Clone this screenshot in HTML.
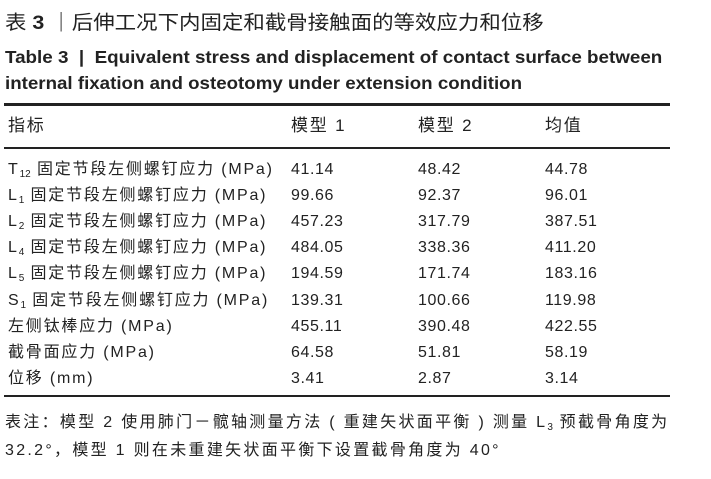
<!DOCTYPE html>
<html><head><meta charset="utf-8">
<style>
body{margin:0;width:711px;height:479px;background:#fff;font-family:"Liberation Sans","Noto Sans CJK SC",sans-serif;color:#222;position:relative;overflow:hidden}
.a{position:absolute;white-space:nowrap;transform-origin:0 0}
.t1{left:5px;top:6px;font-size:19.5px;transform:scaleX(1.1)}
.t2{left:5px;top:47px;font-size:17.5px;font-weight:bold;transform:scaleX(1.075)}
.t3{left:5px;top:73px;font-size:17.5px;font-weight:bold;transform:scaleX(1.07)}
.ln{position:absolute;left:4px;width:666px;background:#222}
.c{position:absolute;font-size:16px;line-height:20px;white-space:nowrap;letter-spacing:0.6px}
.lab{letter-spacing:1.8px}
.n{font-size:10px;vertical-align:-3px;letter-spacing:0}
.f{left:5px;font-size:16px;letter-spacing:2.3px}
</style></head><body>
<div class="a t1">表 <b>3</b> ｜后伸工况下内固定和截骨接触面的等效应力和位移</div>
<div class="a t2">Table 3 &nbsp;|&nbsp; Equivalent stress and displacement of contact surface between</div>
<div class="a t3">internal fixation and osteotomy under extension condition</div>
<div class="ln" style="top:103px;height:2.5px"></div>
<div class="ln" style="top:147px;height:1.5px"></div>
<div class="ln" style="top:395px;height:1.5px"></div>
<div id="tbl"></div>
<div class="a f" style="top:408px">表注：模型 2 使用肺门－髋轴测量方法 ( 重建矢状面平衡 ) 测量 L<span class="n">3</span> 预截骨角度为</div>
<div class="a f" style="top:436px">32.2°，模型 1 则在未重建矢状面平衡下设置截骨角度为 40°</div>
<script>
const header=["指标","模型 1","模型 2","均值"];
const labels=['T<span class="n">12</span> 固定节段左侧螺钉应力 (MPa)','L<span class="n">1</span> 固定节段左侧螺钉应力 (MPa)','L<span class="n">2</span> 固定节段左侧螺钉应力 (MPa)','L<span class="n">4</span> 固定节段左侧螺钉应力 (MPa)','L<span class="n">5</span> 固定节段左侧螺钉应力 (MPa)','S<span class="n">1</span> 固定节段左侧螺钉应力 (MPa)','左侧钛棒应力 (MPa)','截骨面应力 (MPa)','位移 (mm)'];
const model1=["41.14","99.66","457.23","484.05","194.59","139.31","455.11","64.58","3.41"];
const model2=["48.42","92.37","317.79","338.36","171.74","100.66","390.48","51.81","2.87"];
const mean=["44.78","96.01","387.51","411.20","183.16","119.98","422.55","58.19","3.14"];
const xs=[8,291,418,545];
const t=document.getElementById('tbl');
function cell(html,x,y,name,size,cls){const d=document.createElement('div');d.className='c'+(cls?' '+cls:'');d.style.left=x+'px';d.style.top=y+'px';if(size)d.style.fontSize=size;d.innerHTML=html;


t.appendChild(d);}
header.forEach((h,i)=>cell(h,xs[i],116,'header-'+i,'17px','lab'));
labels.forEach((l,r)=>{const y=160+r*26.1;
cell(l,xs[0],y,'row-label-'+r,null,'lab');
cell(model1[r],xs[1],y,'model1-value-'+r);
cell(model2[r],xs[2],y,'model2-value-'+r);
cell(mean[r],xs[3],y,'mean-value-'+r);});
</script>
</body></html>
